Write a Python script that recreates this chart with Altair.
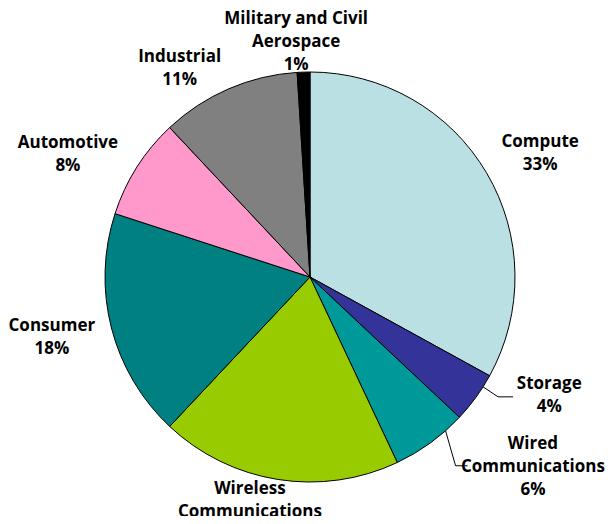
import altair as alt
import pandas as pd

categories = ["Compute", "Storage", "Wired Communications", "Wireless Communications",
              "Consumer", "Automotive", "Industrial", "Military and Civil Aerospace"]
shares = [33, 4, 6, 19, 18, 8, 11, 1]
label_names = ["Compute", "Storage", "Wired\nCommunications", "Wireless\nCommunications",
               "Consumer", "Automotive", "Industrial", "Military and Civil\nAerospace"]
colors = ["#BBE0E3", "#333399", "#009999", "#99CC00", "#008080", "#FF99CC", "#808080", "#000000"]

df = pd.DataFrame({
    "category": categories,
    "share": shares,
    "order": list(range(len(categories))),
    "label": [f"{n}\n{v}%" for n, v in zip(label_names, shares)],
})

CX, CY, R, RT = 302, 269, 205, 250
FONT = "Open Sans"
LH = 23

base = alt.Chart(df).encode(
    theta=alt.Theta("share:Q", stack=True),
    order=alt.Order("order:Q"),
    x=alt.value(CX),
    y=alt.value(CY),
)

pie = base.mark_arc(outerRadius=R, stroke="black", strokeWidth=1).encode(
    color=alt.Color("category:N", scale=alt.Scale(domain=categories, range=colors), legend=None)
)

label_offsets = {
    "Compute": (15, 4),
    "Storage": (37, -28),
    "Wired Communications": (76, -12),
    "Wireless Communications": (-21, -12),
    "Consumer": (-16, -2),
    "Automotive": (-31, 11),
    "Industrial": (-31, 21),
    "Military and Civil Aerospace": (-6, 15),
}

labels = []
for cat, (ddx, ddy) in label_offsets.items():
    n_lines = label_names[categories.index(cat)].count("\n") + 2
    labels.append(
        base.mark_text(radius=RT, dx=ddx, dy=ddy - (n_lines - 1) * LH / 2, font=FONT,
                       fontWeight="bold", fontSize=17, lineBreak="\n", lineHeight=LH,
                       align="center", baseline="middle", color="black").encode(
            text=alt.condition(alt.datum.category == cat, "label:N", alt.value(""))
        )
    )

lead = (
    alt.Chart(df)
    .transform_joinaggregate(total="sum(share)")
    .transform_window(cum="sum(share)", sort=[alt.SortField("order")], frame=[None, 0])
    .transform_calculate(
        ang="2*PI*(datum.cum - datum.share + 0.25*datum.share)/datum.total",
    )
    .transform_calculate(
        ax=f"{CX} + {R}*sin(datum.ang)",
        ay=f"{CY} - {R}*cos(datum.ang)",
        ox="datum.category == 'Storage' ? 15 : 10",
        oy="datum.category == 'Storage' ? 10 : 35",
    )
    .transform_calculate(ex="datum.ax + datum.ox", ey="datum.ay + datum.oy")
    .transform_calculate(fx="datum.ex + (datum.category == 'Storage' ? 15 : 12)")
    .transform_filter(alt.FieldOneOfPredicate(field="category", oneOf=["Storage", "Wired Communications"]))
)

seg1 = lead.mark_rule(color="black", strokeWidth=1).encode(
    x=alt.X("ax:Q", scale=None, axis=None), y=alt.Y("ay:Q", scale=None, axis=None),
    x2="ex:Q", y2="ey:Q",
)
seg2 = lead.mark_rule(color="black", strokeWidth=1).encode(
    x=alt.X("ex:Q", scale=None, axis=None), y=alt.Y("ey:Q", scale=None, axis=None),
    x2="fx:Q", y2="ey:Q",
)

chart = alt.layer(pie, *labels, seg1, seg2).properties(
    width=597, height=508, autosize="none", padding=0
).configure_view(stroke=None)

chart.save("out.html", embed_options={"renderer": "svg", "actions": False})
